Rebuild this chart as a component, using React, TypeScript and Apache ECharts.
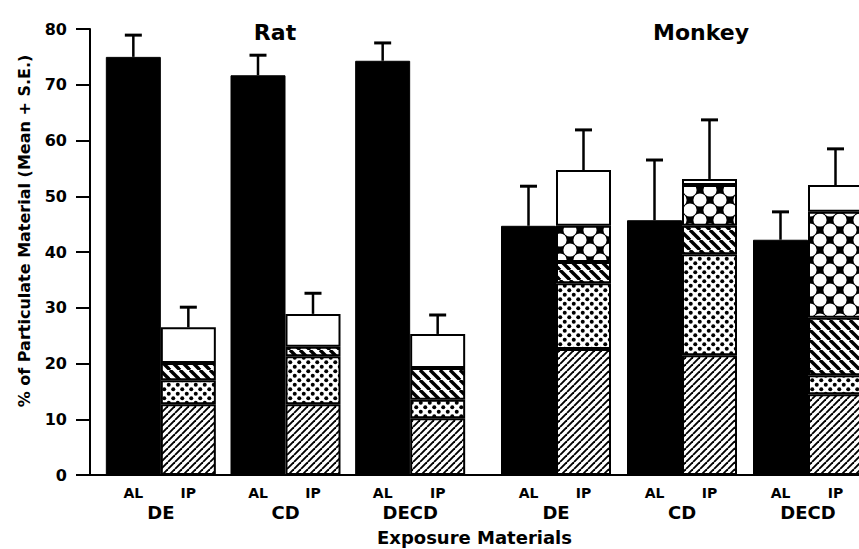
import React, { useEffect, useRef } from 'react';
import * as echarts from 'echarts';

// ---- data ----
const species = ['Rat', 'Monkey'];
const groups = ['DE', 'CD', 'DECD'];
// AL (black bars): mean and S.E.
const alMean = [[75.0, 71.7, 74.3], [44.7, 45.7, 42.2]];
const alSE = [[3.9, 3.6, 3.2], [7.1, 10.8, 5.0]];
// IP stacked layers, bottom to top
const ipHatch = [[12.7, 12.7, 10.2], [22.6, 21.5, 14.5]];
const ipDots = [[4.3, 8.6, 3.3], [11.8, 18.1, 3.4]];
const ipDiag = [[3.1, 1.7, 5.7], [3.8, 5.1, 10.3]];
const ipCross = [[0, 0, 0], [6.5, 7.3, 19.0]];
const ipOpen = [[6.4, 5.9, 6.1], [10.0, 1.1, 4.8]];
const ipSE = [[3.6, 3.7, 3.4], [7.2, 10.6, 6.5]];
const yMin = 0;
const yMax = 80;
const yStep = 10;

const FONT = 'DejaVu Sans';
const BAR_W = 55;
const CAP_W = 17;
const AXIS_X = 90;
const TOP = 29;
const BOTTOM = 74;

function tile(size: number, bg: string, draw: (ctx: CanvasRenderingContext2D, s: number) => void) {
  const c = document.createElement('canvas');
  c.width = size;
  c.height = size;
  const ctx = c.getContext('2d')!;
  ctx.fillStyle = bg;
  ctx.fillRect(0, 0, size, size);
  draw(ctx, size);
  return { image: c, repeat: 'repeat', imageWidth: size, imageHeight: size } as any;
}

function makePatterns() {
  const hatch = tile(7, '#fff', (ctx, s) => {
    ctx.strokeStyle = '#000';
    ctx.lineWidth = 1.9;
    for (let k = -1; k <= 1; k++) {
      ctx.beginPath();
      ctx.moveTo(k * s, s);
      ctx.lineTo(k * s + s, 0);
      ctx.stroke();
    }
  });
  const dots = tile(9, '#fff', (ctx) => {
    ctx.fillStyle = '#000';
    const pts = [[2.25, 2.25], [6.75, 6.75]];
    pts.forEach(([x, y]) => {
      ctx.beginPath();
      ctx.arc(x, y, 2.0, 0, Math.PI * 2);
      ctx.fill();
    });
  });
  const diag = tile(10, '#fff', (ctx, s) => {
    ctx.strokeStyle = '#000';
    ctx.lineWidth = 3.4;
    for (let k = -1; k <= 1; k++) {
      ctx.beginPath();
      ctx.moveTo(k * s, 0);
      ctx.lineTo(k * s + s, s);
      ctx.stroke();
    }
  });
  // white circles on a staggered lattice, black X shapes between them
  const cross = tile(20, '#000', (ctx, s) => {
    ctx.fillStyle = '#fff';
    const r = s * 0.33;
    const centers = [[s / 2, s / 2], [0, 0], [s, 0], [0, s], [s, s]];
    centers.forEach(([x, y]) => {
      ctx.beginPath();
      ctx.arc(x, y, r, 0, Math.PI * 2);
      ctx.fill();
    });
  });
  return { hatch, dots, diag, cross };
}

export default function App() {
  const ref = useRef<HTMLDivElement>(null);
  useEffect(() => {
    if (!ref.current) return;
    const chart = echarts.init(ref.current, null, { renderer: 'svg' });
    const pat = makePatterns();

    const layers = [
      { name: 'hatch', data: ipHatch, color: pat.hatch },
      { name: 'dots', data: ipDots, color: pat.dots },
      { name: 'diag', data: ipDiag, color: pat.diag },
      { name: 'cross', data: ipCross, color: pat.cross },
      { name: 'open', data: ipOpen, color: '#fff' },
    ];

    const labelStyle = {
      formatter: (v: string) => `{al|AL}{ip|IP}\n{grp|${v}}`,
      margin: 9,
      rich: {
        al: { width: BAR_W, align: 'center', fontSize: 14, fontWeight: 'bold', fontFamily: FONT, color: '#000', lineHeight: 18 },
        ip: { width: BAR_W, align: 'center', fontSize: 14, fontWeight: 'bold', fontFamily: FONT, color: '#000', lineHeight: 18 },
        grp: { fontSize: 18, fontWeight: 'bold', fontFamily: FONT, color: '#000', lineHeight: 21 },
      },
    };

    const series: any[] = [];
    species.forEach((_, g) => {
      series.push({
        type: 'bar',
        name: 'AL',
        xAxisIndex: g,
        yAxisIndex: g,
        data: alMean[g],
        barWidth: BAR_W,
        barGap: '0%',
        itemStyle: { color: '#000', borderColor: '#000', borderWidth: 1 },
      });
      layers.forEach((l) => {
        series.push({
          type: 'bar',
          name: l.name,
          xAxisIndex: g,
          yAxisIndex: g,
          stack: 'ip' + g,
          data: l.data[g].map((v) => (v > 0 ? v : '-')),
          barWidth: BAR_W,
          barGap: '0%',
          itemStyle: { color: l.color, borderColor: '#000', borderWidth: 2 },
        });
      });
      const ipTop = groups.map((_, i) =>
        layers.reduce((s, l) => s + l.data[g][i], 0)
      );
      const errData: number[][] = [];
      groups.forEach((_, i) => {
        errData.push([i, alMean[g][i], alSE[g][i], -1]);
        errData.push([i, ipTop[i], ipSE[g][i], 1]);
      });
      series.push({
        type: 'custom',
        xAxisIndex: g,
        yAxisIndex: g,
        data: errData,
        encode: { x: 0, y: 1 },
        z: 5,
        renderItem: (_p: any, api: any) => {
          const idx = api.value(0);
          const top = api.value(1);
          const se = api.value(2);
          const side = api.value(3);
          const p0 = api.coord([idx, top]);
          const p1 = api.coord([idx, top + se]);
          const x = p0[0] + (side * BAR_W) / 2;
          return {
            type: 'group',
            children: [
              { type: 'line', shape: { x1: x, y1: p0[1], x2: x, y2: p1[1] }, style: { stroke: '#000', lineWidth: 2.5 } },
              { type: 'line', shape: { x1: x - CAP_W / 2, y1: p1[1], x2: x + CAP_W / 2, y2: p1[1] }, style: { stroke: '#000', lineWidth: 3 } },
            ],
          };
        },
      });
    });

    chart.setOption({
      animation: false,
      backgroundColor: '#fff',
      title: [
        { text: species[0], left: 270, top: 16, textAlign: 'center', textStyle: { fontSize: 22, fontWeight: 'bold', fontFamily: FONT, color: '#000' } },
        { text: species[1], left: 696, top: 16, textAlign: 'center', textStyle: { fontSize: 22, fontWeight: 'bold', fontFamily: FONT, color: '#000' } },
      ],
      grid: [
        { left: 98.5, width: 374, top: TOP, bottom: BOTTOM, outerBoundsMode: 'none', containLabel: false },
        { left: 493, width: 378, top: TOP, bottom: BOTTOM, outerBoundsMode: 'none', containLabel: false },
        { left: AXIS_X, right: 0, top: TOP, bottom: BOTTOM, outerBoundsMode: 'none', containLabel: false },
      ],
      xAxis: [
        { gridIndex: 0, type: 'category', data: groups, axisLine: { show: false }, axisTick: { show: false }, axisLabel: labelStyle },
        { gridIndex: 1, type: 'category', data: groups, axisLine: { show: false }, axisTick: { show: false }, axisLabel: labelStyle },
        {
          gridIndex: 2,
          type: 'value',
          min: 0,
          max: 1,
          axisLine: { show: true, lineStyle: { color: '#000', width: 2 } },
          axisTick: { show: false },
          axisLabel: { show: false },
          splitLine: { show: false },
          name: 'Exposure Materials',
          nameLocation: 'middle',
          nameGap: 53,
          nameTextStyle: { fontSize: 18, fontWeight: 'bold', fontFamily: FONT, color: '#000' },
          z: 10,
        },
      ],
      yAxis: [
        { gridIndex: 0, type: 'value', min: yMin, max: yMax, show: false },
        { gridIndex: 1, type: 'value', min: yMin, max: yMax, show: false },
        {
          gridIndex: 2,
          type: 'value',
          min: yMin,
          max: yMax,
          interval: yStep,
          axisLine: { show: true, lineStyle: { color: '#000', width: 2 } },
          axisTick: { show: true, inside: false, length: 14, lineStyle: { color: '#000', width: 2 } },
          axisLabel: { margin: 23, fontSize: 16, fontWeight: 'bold', fontFamily: FONT, color: '#000' },
          splitLine: { show: false },
          name: '% of Particulate Material (Mean + S.E.)',
          nameLocation: 'middle',
          nameGap: 58,
          nameTextStyle: { fontSize: 16, fontWeight: 'bold', fontFamily: FONT, color: '#000', padding: [0, 0, 0, 42] },
        },
      ],
      series,
    });
    return () => chart.dispose();
  }, []);
  return <div ref={ref} style={{ position: 'absolute', left: 0, top: 0, width: 859, height: 549 }} />;
}
